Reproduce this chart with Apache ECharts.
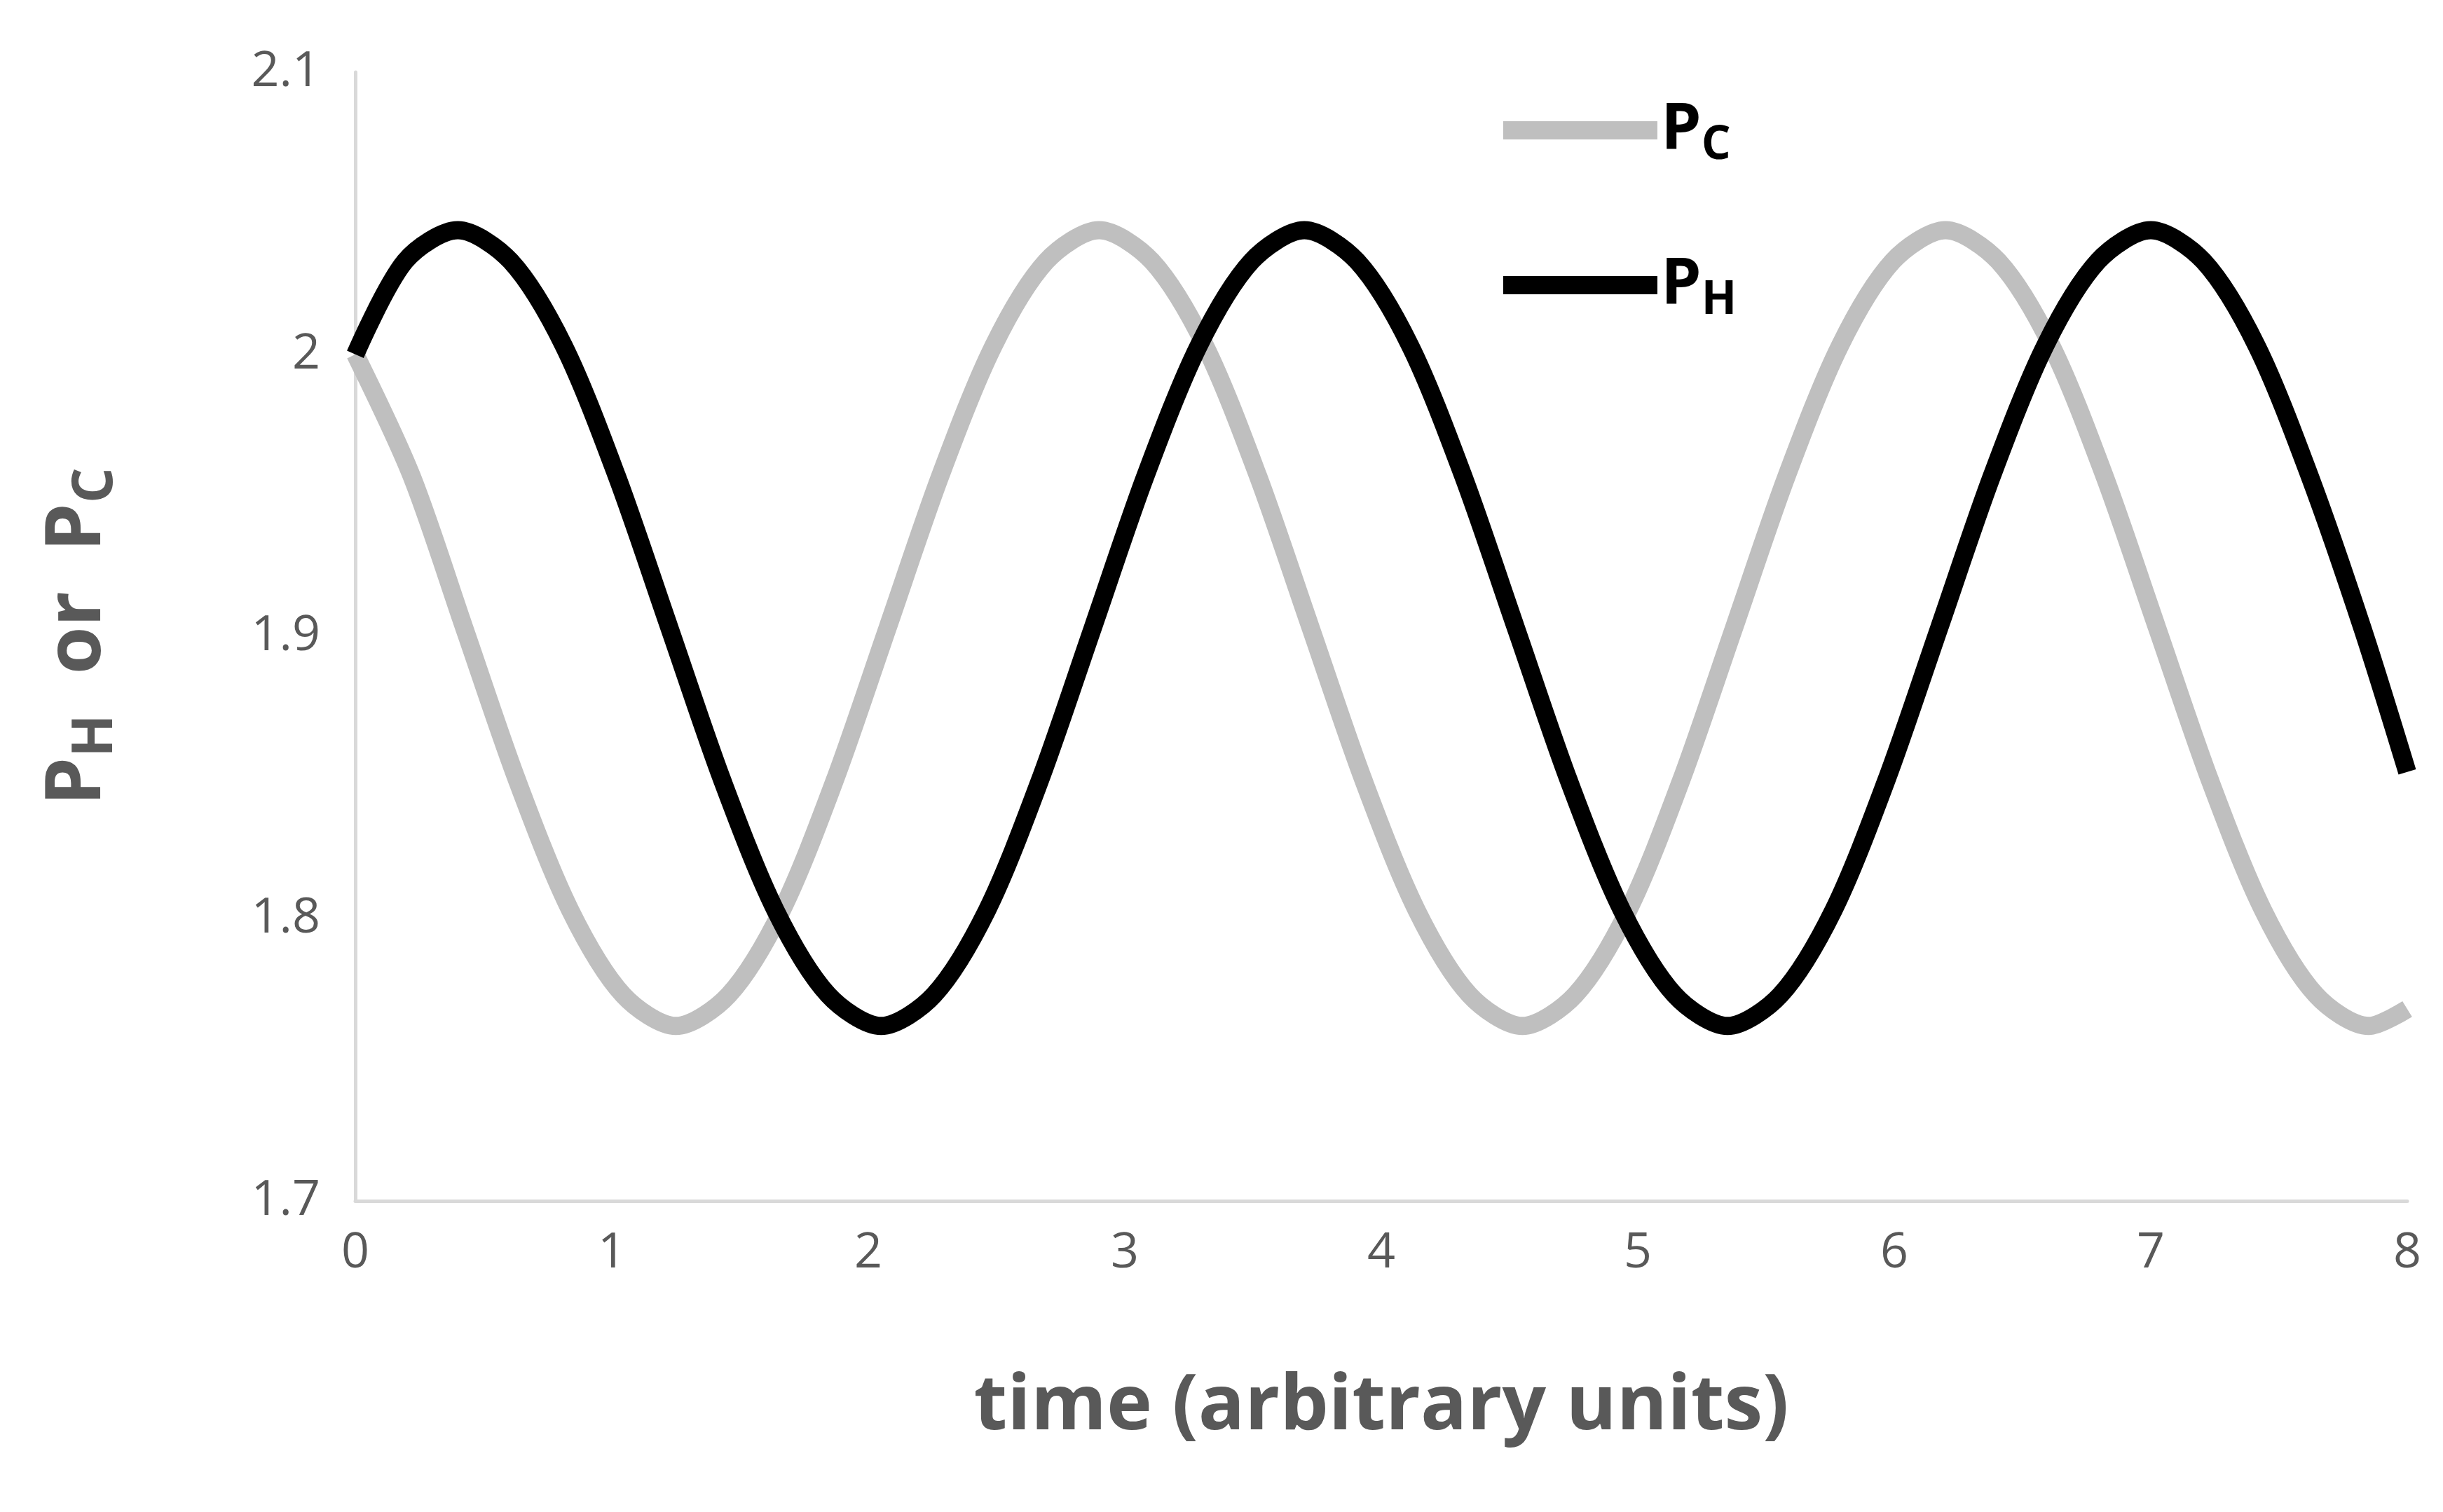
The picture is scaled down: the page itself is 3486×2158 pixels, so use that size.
<!DOCTYPE html>
<html><head><meta charset="utf-8">
<script src="https://cdn.jsdelivr.net/npm/echarts@6/dist/echarts.min.js"></script>
<style>html,body{margin:0;padding:0;background:#fff}#c{width:3486px;height:2158px}</style>
</head><body><div id="c"></div>
<script>
// values
var pcT = [0, 0.219, 0.425, 0.631, 0.838, 1.044, 1.25, 1.456, 1.663, 1.869, 2.075, 2.281, 2.488, 2.694, 2.9, 3.106, 3.313, 3.519, 3.725, 3.931, 4.138, 4.344, 4.55, 4.756, 4.963, 5.169, 5.375, 5.581, 5.788, 5.994, 6.2, 6.406, 6.613, 6.819, 7.025, 7.231, 7.438, 7.644, 7.85, 8];
var pcV = [2.0, 1.957, 1.903, 1.849, 1.803, 1.773, 1.762, 1.773, 1.803, 1.849, 1.903, 1.957, 2.003, 2.033, 2.044, 2.033, 2.003, 1.957, 1.903, 1.849, 1.803, 1.773, 1.762, 1.773, 1.803, 1.849, 1.903, 1.957, 2.003, 2.033, 2.044, 2.033, 2.003, 1.957, 1.903, 1.849, 1.803, 1.773, 1.762, 1.768];
var phT = [0, 0.194, 0.4, 0.606, 0.813, 1.019, 1.225, 1.431, 1.638, 1.844, 2.05, 2.256, 2.463, 2.669, 2.875, 3.081, 3.288, 3.494, 3.7, 3.906, 4.113, 4.319, 4.525, 4.731, 4.938, 5.144, 5.35, 5.556, 5.763, 5.969, 6.175, 6.381, 6.588, 6.794, 7.0, 7.206, 7.413, 7.619, 7.825, 8];
var phV = [2.0, 2.033, 2.044, 2.033, 2.003, 1.957, 1.903, 1.849, 1.803, 1.773, 1.762, 1.773, 1.803, 1.849, 1.903, 1.957, 2.003, 2.033, 2.044, 2.033, 2.003, 1.957, 1.903, 1.849, 1.803, 1.773, 1.762, 1.773, 1.803, 1.849, 1.903, 1.957, 2.003, 2.033, 2.044, 2.033, 2.003, 1.957, 1.903, 1.852];
var xTicks = [0, 1, 2, 3, 4, 5, 6, 7, 8];
var yTicks = [1.7, 1.8, 1.9, 2, 2.1];

function pairs(t, v) {
    var out = [];
    for (var i = 0; i < t.length; i++) out.push([t[i], v[i]]);
    return out;
}
var font = '"Open Sans", sans-serif';
var grey = '#595959';
var chart = echarts.init(document.getElementById('c'));
chart.setOption({
    animation: false,
    textStyle: {fontFamily: font},
    grid: {left: 507, right: 51, top: 103, bottom: 444},
    legend: {
        orient: 'vertical', left: 2140, top: 135,
        itemWidth: 220, itemHeight: 26, itemGap: 120,
        icon: 'rect',
        formatter: function(n) { return '{a|P}{b|' + n.charAt(1) + '}'; },
        textStyle: {rich: {
            a: {fontSize: 92, fontWeight: 'bold', color: '#000', fontFamily: font},
            b: {fontSize: 66, fontWeight: 'bold', color: '#000', fontFamily: font, padding: [44, 0, 0, 0]}
        }}
    },
    xAxis: {
        type: 'value', min: 0, max: 8, interval: 1,
        axisLine: {lineStyle: {color: '#d9d9d9', width: 5}},
        axisTick: {show: false}, splitLine: {show: false},
        axisLabel: {fontSize: 70, color: grey, margin: 40, fontFamily: font,
            formatter: function(v) { return xTicks.indexOf(v) >= 0 ? String(v) : ''; }},
        name: 'time (arbitrary units)', nameLocation: 'middle', nameGap: 240,
        nameTextStyle: {fontSize: 110, fontWeight: 'bold', color: grey, fontFamily: font}
    },
    yAxis: {
        type: 'value', min: 1.7, max: 2.1, interval: 0.1,
        axisLine: {show: true, lineStyle: {color: '#d9d9d9', width: 5}},
        axisTick: {show: false}, splitLine: {show: false},
        axisLabel: {fontSize: 70, color: grey, margin: 50, fontFamily: font,
            formatter: function(v) { var r = Math.round(v * 10) / 10; return yTicks.indexOf(r) >= 0 ? String(r) : ''; }},
        name: '{a|P}{b|H}{a|  or  P}{b|C}', nameLocation: 'middle', nameGap: 330, nameRotate: 90,
        nameTextStyle: {rich: {
            a: {fontSize: 110, fontWeight: 'bold', color: grey, fontFamily: font},
            b: {fontSize: 80, fontWeight: 'bold', color: grey, fontFamily: font, padding: [50, 0, 0, 0]}
        }}
    },
    series: [
        {name: 'PC', type: 'line', data: pairs(pcT, pcV), smooth: 0.3, showSymbol: false,
         lineStyle: {color: '#bfbfbf', width: 26}, itemStyle: {color: '#bfbfbf'}},
        {name: 'PH', type: 'line', data: pairs(phT, phV), smooth: 0.3, showSymbol: false,
         lineStyle: {color: '#000', width: 26}, itemStyle: {color: '#000'}}
    ]
});
</script></body></html>
